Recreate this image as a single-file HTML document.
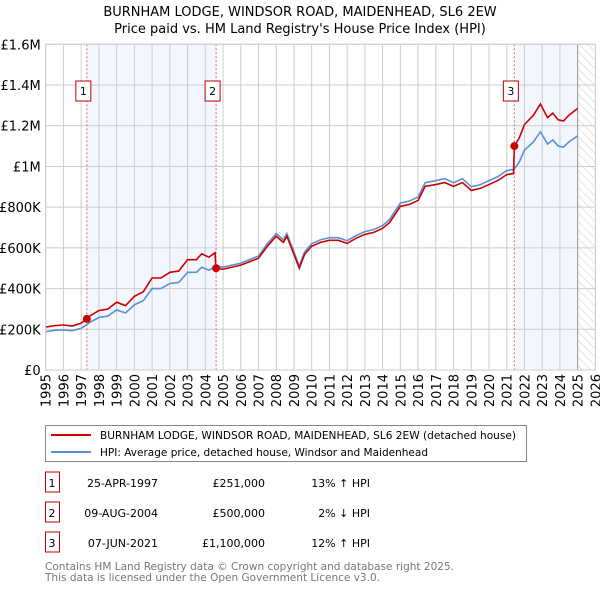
<!DOCTYPE html>
<html><head><meta charset="utf-8"><style>
body{margin:0;background:#fff;font-family:"Liberation Sans","DejaVu Sans",sans-serif;}
svg text{font-family:"DejaVu Sans","Liberation Sans",sans-serif;}
</style></head><body>
<svg id="c" width="600" height="590" xmlns="http://www.w3.org/2000/svg">
<defs><pattern id="hatch" width="6" height="6" patternUnits="userSpaceOnUse" patternTransform="rotate(-45)"><line x1="0" y1="0" x2="0" y2="6" stroke="#ccc" stroke-width="1"/></pattern></defs>
<text x="300" y="16" text-anchor="middle" font-size="13">BURNHAM LODGE, WINDSOR ROAD, MAIDENHEAD, SL6 2EW</text>
<text x="300" y="33" text-anchor="middle" font-size="13">Price paid vs. HM Land Registry's House Price Index (HPI)</text>
<g id="plot"></g>
<rect x="45.5" y="425.5" width="481" height="36" fill="#fff" stroke="#888"/>
<line x1="51" y1="435" x2="91" y2="435" stroke="#cc0000" stroke-width="2"/>
<text x="100" y="439" font-size="10.5" textLength="416" lengthAdjust="spacingAndGlyphs">BURNHAM LODGE, WINDSOR ROAD, MAIDENHEAD, SL6 2EW (detached house)</text>
<line x1="51" y1="452" x2="91" y2="452" stroke="#5b8fd4" stroke-width="2"/>
<text x="100" y="456" font-size="10.5" textLength="328" lengthAdjust="spacingAndGlyphs">HPI: Average price, detached house, Windsor and Maidenhead</text>
<g id="table" font-size="11"></g>
<text x="45" y="570" font-size="11" fill="#777" textLength="409" lengthAdjust="spacingAndGlyphs">Contains HM Land Registry data © Crown copyright and database right 2025.</text>
<text x="45" y="581" font-size="11" fill="#777" textLength="335" lengthAdjust="spacingAndGlyphs">This data is licensed under the Open Government Licence v3.0.</text>
</svg>
<script>
const yTicks=[0,200000,400000,600000,800000,1000000,1200000,1400000,1600000];
const yTickLabels=["£0","£200K","£400K","£600K","£800K","£1M","£1.2M","£1.4M","£1.6M"];
const xYears=[1995,1996,1997,1998,1999,2000,2001,2002,2003,2004,2005,2006,2007,2008,2009,2010,2011,2012,2013,2014,2015,2016,2017,2018,2019,2020,2021,2022,2023,2024,2025,2026];
const hpiDates=[1995,1995.5,1996,1996.5,1997,1997.3,1997.5,1998,1998.5,1999,1999.5,2000,2000.5,2001,2001.5,2002,2002.5,2003,2003.5,2003.8,2004.2,2004.6,2005,2006,2007,2007.5,2008,2008.4,2008.6,2009,2009.3,2009.6,2010,2010.5,2011,2011.5,2012,2012.5,2013,2013.5,2014,2014.4,2015,2015.5,2016,2016.4,2017,2017.5,2018,2018.5,2019,2019.5,2020,2020.5,2021,2021.4,2021.7,2022,2022.5,2022.9,2023.3,2023.6,2023.9,2024.2,2024.5,2025];
const hpiValues=[188,195,197,193,205,222,235,258,265,295,280,320,340,400,400,425,430,480,480,505,490,510,505,525,560,620,670,640,670,580,510,580,620,640,650,650,635,660,680,690,710,740,820,830,850,920,930,940,920,940,900,910,930,950,980,985,1020,1080,1120,1170,1110,1130,1100,1095,1120,1150];
const priceDates=[1995,1995.5,1996,1996.5,1997,1997.3,1997.5,1998,1998.5,1999,1999.5,2000,2000.5,2001,2001.5,2002,2002.5,2003,2003.5,2003.8,2004.2,2004.55,2004.6,2005,2006,2007,2007.5,2008,2008.4,2008.6,2009,2009.3,2009.6,2010,2010.5,2011,2011.5,2012,2012.5,2013,2013.5,2014,2014.4,2015,2015.5,2016,2016.4,2017,2017.5,2018,2018.5,2019,2019.5,2020,2020.5,2021,2021.38,2021.43,2021.7,2022,2022.5,2022.9,2023.3,2023.6,2023.9,2024.2,2024.5,2025];
const priceValues=[211,218,221,216,230,251,266,292,299,333,316,362,384,452,452,480,486,542,542,571,554,576,500,495,515,549,608,657,627,657,568,500,568,608,627,637,637,622,647,666,676,696,725,804,813,833,902,911,921,902,921,882,892,911,931,960,965,1100,1139,1206,1251,1307,1240,1262,1229,1223,1251,1285];
const saleDates=[1997.32,2004.61,2021.43];
const salePrices=[251000,500000,1100000];
const saleLabels=["1","2","3"];
const saleDateText=["25-APR-1997","09-AUG-2004","07-JUN-2021"];
const salePriceText=["£251,000","£500,000","£1,100,000"];
const saleHpiText=["13% ↑ HPI","2% ↓ HPI","12% ↑ HPI"];

const NS="http://www.w3.org/2000/svg";
const X0=45.7,X1=595.4,Y0=370,Y1=44.3;
const xs=t=>X0+(t-1995)/(2026-1995)*(X1-X0);
const ys=v=>Y0-v/1600000*(Y0-Y1);
const plot=document.getElementById('plot');
function mk(tag,attrs,parent){const e=document.createElementNS(NS,tag);for(const k in attrs)e.setAttribute(k,attrs[k]);(parent||plot).appendChild(e);return e;}
let s=mk('rect',{x:xs(saleDates[0]),y:Y1,width:xs(saleDates[1])-xs(saleDates[0]),height:Y0-Y1,fill:'#f3f7fd'});


s=mk('rect',{x:xs(saleDates[2]),y:Y1,width:xs(2025)-xs(saleDates[2]),height:Y0-Y1,fill:'#f3f7fd'});


s=mk('rect',{x:xs(2025),y:Y1,width:X1-xs(2025),height:Y0-Y1,fill:'url(#hatch)'});


yTicks.forEach((v,i)=>{
 const l=mk('line',{x1:X0,x2:X1,y1:ys(v),y2:ys(v),stroke:'#ccc'});
 
 
 const t=mk('text',{x:X0-5,y:ys(v)+5,'text-anchor':'end','font-size':13});
 
 
 t.textContent=yTickLabels[i];
});
xYears.forEach(yr=>{
 const l=mk('line',{x1:xs(yr),x2:xs(yr),y1:Y1,y2:Y0,stroke:'#ccc'});
 
 
 const t=mk('text',{x:0,y:0,'text-anchor':'end','font-size':13,transform:`translate(${xs(yr)+5},${Y0+4}) rotate(-90)`});
 
 
 t.textContent=yr;
});
let nl=mk('line',{x1:xs(2025),x2:xs(2025),y1:Y1,y2:Y0,stroke:'#999'});


saleDates.forEach(d=>{
 const l=mk('line',{x1:xs(d),x2:xs(d),y1:Y1,y2:Y0,stroke:'#e06666','stroke-dasharray':'2,2'});
 
 
});
let p=mk('polyline',{points:hpiDates.map((d,i)=>xs(d)+','+ys(hpiValues[i]*1000)).join(' '),fill:'none',stroke:'#5b8fd4','stroke-width':1.6});


p=mk('polyline',{points:priceDates.map((d,i)=>xs(d)+','+ys(priceValues[i]*1000)).join(' '),fill:'none',stroke:'#cc0000','stroke-width':1.6});


saleDates.forEach((d,i)=>{
 const c=mk('circle',{cx:xs(d),cy:ys(salePrices[i]),r:4,fill:'#cc0000'});
 
 
 const r=mk('rect',{x:xs(d)-11,y:81,width:15,height:20,fill:'#fff',stroke:'#b00'});
 
 
 const t=mk('text',{x:xs(d)-3.5,y:95,'text-anchor':'middle','font-size':11});
 
 
 t.textContent=saleLabels[i];
});
let ax=mk('rect',{x:X0,y:Y1,width:X1-X0,height:Y0-Y1,fill:'none',stroke:'#ccc'});


const tb=document.getElementById('table');
saleLabels.forEach((lab,i)=>{
 const y=483+i*30;
 const r=mk('rect',{x:45.5,y:y-11,width:14,height:20,fill:'#fff',stroke:'#b00'},tb);
 
 
 const cells=[[52,'middle',lab,'table-num'],[158,'end',saleDateText[i],'table-date'],[265,'end',salePriceText[i],'table-price'],[370,'end',saleHpiText[i],'table-hpi-diff']];
 cells.forEach(c=>{
  const t=mk('text',{x:c[0],y:y+4,'text-anchor':c[1]},tb);
  
  
  t.textContent=c[2];
 });
});
</script>
</body></html>
